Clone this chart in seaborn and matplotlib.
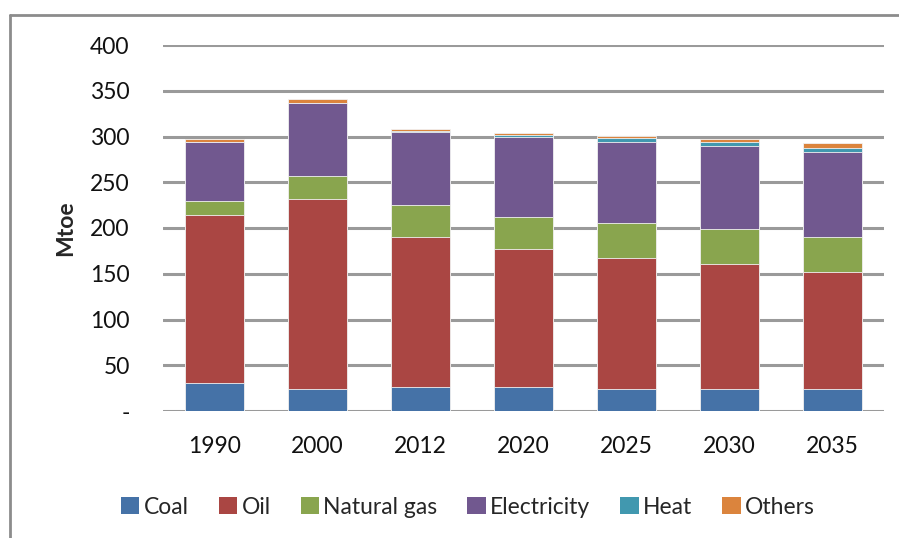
import pandas as pd
import seaborn as sns
import matplotlib.pyplot as plt
from matplotlib.patches import Patch
from matplotlib.lines import Line2D

# data (Mtoe)
years = ['1990', '2000', '2012', '2020', '2025', '2030', '2035']
coal = [31, 24, 26, 26, 24, 24, 24]
oil = [183, 208, 164, 151, 143, 137, 128]
natural_gas = [16, 25, 35, 35, 38, 38, 38]
electricity = [64, 80, 80, 87, 89, 91, 93]
heat = [0, 0, 0.5, 2.5, 4.5, 4, 4.5]
others = [3, 4, 2.5, 2.5, 2.5, 3, 5]

series = ['Coal', 'Oil', 'Natural gas', 'Electricity', 'Heat', 'Others']
colors = ['#4572A7', '#AA4643', '#89A54E', '#71588F', '#4198AF', '#DB843D']

df = pd.DataFrame({'Year': years, 'Coal': coal, 'Oil': oil,
                   'Natural gas': natural_gas, 'Electricity': electricity,
                   'Heat': heat, 'Others': others})
cum = df[series].cumsum(axis=1)
cum['Year'] = df['Year']

sns.set_style('white')
plt.rcParams['font.family'] = ['Lato', 'DejaVu Sans']

fig = plt.figure(figsize=(8.99, 5.38), dpi=100)
ax = fig.add_axes([163 / 899, 1 - 411 / 538, 721 / 899, 366 / 538])

# stacked bars: draw the cumulative totals from top layer down
for name, col in reversed(list(zip(series, colors))):
    sns.barplot(data=cum, x='Year', y=name, order=years, color=col,
                width=0.57, edgecolor='#f2f2f2', linewidth=0.6, ax=ax,
                saturation=1, zorder=3)

ax.set_ylim(0, 400)
ax.set_xlim(-0.5, len(years) - 0.5)
ax.set_yticks(range(0, 401, 50))
ax.set_yticklabels(['-'] + [str(v) for v in range(50, 401, 50)])
ax.yaxis.grid(True, color='#9a9a9a', linewidth=2.2, zorder=0)
ax.set_axisbelow(True)
for s in ax.spines.values():
    s.set_visible(False)
ax.tick_params(axis='both', length=0, labelsize=16.5, colors='#111111')
ax.tick_params(axis='y', pad=24)
ax.tick_params(axis='x', pad=18)
ax.set_xlabel('')
ax.set_ylabel('Mtoe', fontsize=16.5, fontweight='bold', labelpad=10)

handles = [Patch(facecolor=c, edgecolor='none', label=n) for n, c in zip(series, colors)]
fig.legend(handles=handles, loc='center', bbox_to_anchor=(468 / 899, 1 - 507 / 538),
           ncol=6, frameon=False, fontsize=16.5, handlelength=0.8, handleheight=0.8,
           handletextpad=0.2, columnspacing=1.3)

# outer chart frame
fig.add_artist(Line2D([10 / 899, 1], [1 - 15 / 538] * 2, color='#8c8c8c', lw=2))
fig.add_artist(Line2D([10 / 899] * 2, [0, 1 - 15 / 538], color='#8c8c8c', lw=2))

fig.savefig('out.png', dpi=100)
